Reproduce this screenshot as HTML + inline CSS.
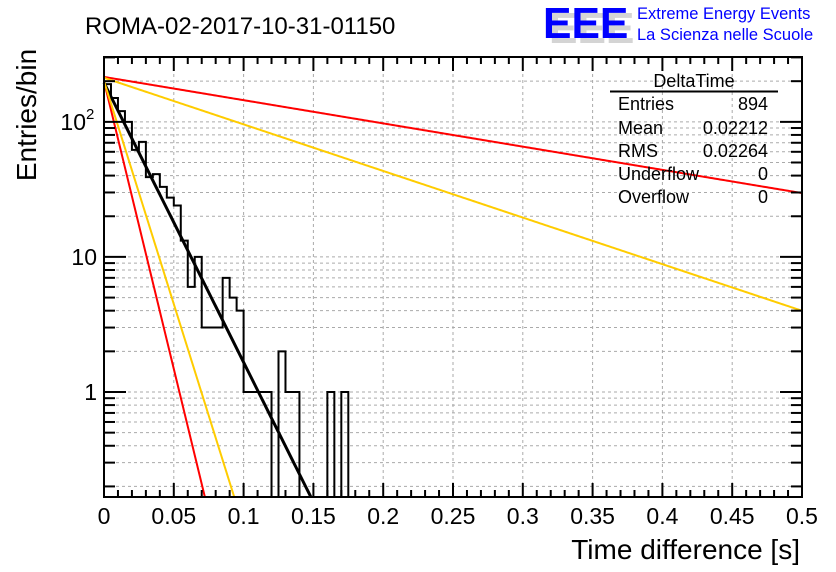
<!DOCTYPE html>
<html><head><meta charset="utf-8"><style>
html,body{margin:0;padding:0;background:#fff;}
svg{display:block;font-family:"Liberation Sans",sans-serif;}
</style></head><body>
<svg id="c" width="836" height="572" viewBox="0 0 836 572">
<rect width="836" height="572" fill="#fff"/>
<text x="85" y="34" font-size="24">ROMA-02-2017-10-31-01150</text>
<g>
<text x="0" y="0" font-size="44" font-weight="bold" fill="#d4d4d4" transform="translate(549,43) scale(0.97,1)">EEE</text>
<text x="0" y="0" font-size="44" font-weight="bold" fill="#0000ff" transform="translate(543,38) scale(0.97,1)">EEE</text>
<text x="637" y="19" font-size="16.5" fill="#0000ff">Extreme Energy Events</text>
<text x="637" y="40" font-size="16.5" fill="#0000ff">La Scienza nelle Scuole</text>
</g>
<g id="grid"></g>
<g id="marks"></g>
<g id="axes"></g>
<g font-size="18">
<text x="694" y="87" text-anchor="middle">DeltaTime</text>
<line x1="610" y1="91.5" x2="778" y2="91.5" stroke="#000" stroke-width="2"/>
<text x="618" y="110">Entries</text><text x="768" y="110" text-anchor="end">894</text>
<text x="618" y="134">Mean</text><text x="768" y="134" text-anchor="end">0.02212</text>
<text x="618" y="157">RMS</text><text x="768" y="157" text-anchor="end">0.02264</text>
<text x="618" y="180">Underflow</text><text x="768" y="180" text-anchor="end">0</text>
<text x="618" y="203">Overflow</text><text x="768" y="203" text-anchor="end">0</text>
</g>
<text x="0" y="0" font-size="28" text-anchor="middle" transform="translate(36,115) rotate(-90)">Entries/bin</text>
<text x="800" y="559" font-size="28" text-anchor="end">Time difference [s]</text>
</svg>
<script>
const binWidth = 0.005;
const binCounts = [190,150,120,100,62,71,39,41,33,27.5,24,13.2,6,10,3,3,3,7,5,4,1,1,1,1,0,2,1,1,0,0,0,0,1,0,1,0];
const xTicks = [0,0.05,0.1,0.15,0.2,0.25,0.3,0.35,0.4,0.45,0.5];
const xTickLabels = ["0","0.05","0.1","0.15","0.2","0.25","0.3","0.35","0.4","0.45","0.5"];
const yTickValues = [1,10,100];
const yTickLabels = ["1","10","10"];
const fitNames = ["fit-black","fit-red-steep","fit-yellow-steep","fit-red-shallow","fit-yellow-shallow"];
const fitAmp = [195,200,200,215,212];
const fitLog10Slope = [20.7,42.6,33,1.72,3.45];
const fitColors = ["#000","#f00","#fc0","#f00","#fc0"];
const fitWidths = [3,2,2,2,2];

const X0=104,X1=802,Y0=497,Y1=57;
const xMin=0,xMax=0.5;
const yLogMin=Math.log10(0.167), yLogMax=Math.log10(302);
const sx=v=>X0+(v-xMin)/(xMax-xMin)*(X1-X0);
const sy=v=>Y0-(Math.log10(v)-yLogMin)/(yLogMax-yLogMin)*(Y0-Y1);
const NS="http://www.w3.org/2000/svg";
function mk(tag,attrs,parent){const e=document.createElementNS(NS,tag);for(const k in attrs)e.setAttribute(k,attrs[k]);parent.appendChild(e);return e;}
const grid=document.getElementById('grid'),marks=document.getElementById('marks'),axes=document.getElementById('axes');
for(const t of xTicks){if(t===0||t===0.5)continue;const l=mk('line',{x1:sx(t),y1:Y0,x2:sx(t),y2:Y1,stroke:'#aaa','stroke-dasharray':'3,3','stroke-width':1},grid);

}
for(let d=-1;d<=2;d++){for(let m=1;m<=9;m++){const v=m*Math.pow(10,d);if(v<0.167||v>302)continue;const y=sy(v);
const l=mk('line',{x1:X0,y1:y,x2:X1,y2:y,stroke:'#aaa','stroke-dasharray':'3,3','stroke-width':1},grid);


const big=m===1;
const tl=mk('line',{x1:X0,y1:y,x2:X0+(big?22:11),y2:y,stroke:'#000','stroke-width':2},axes);


const tr=mk('line',{x1:X1,y1:y,x2:X1-(big?22:11),y2:y,stroke:'#000','stroke-width':2},axes);

}}
let pts=[];
const yc=v=>v<=0?Y0:Math.min(Y0,sy(v));
pts.push(sx(0)+','+Y0);
binCounts.forEach((c,i)=>{const y=yc(c);pts.push(sx(i*binWidth)+','+y);pts.push(sx((i+1)*binWidth)+','+y);});
pts.push(sx(binCounts.length*binWidth)+','+Y0);
const h=mk('polyline',{points:pts.join(' '),fill:'none',stroke:'#000','stroke-width':2},marks);


fitAmp.forEach((A,i)=>{const p=[];for(let k=0;k<=400;k++){const t=k/400*xMax;const v=A*Math.pow(10,-fitLog10Slope[i]*t);if(v<0.167){const tEnd=Math.log10(A/0.167)/fitLog10Slope[i];p.push(sx(tEnd)+','+Y0);break;}p.push(sx(t)+','+sy(v));}
const l=mk('polyline',{points:p.join(' '),fill:'none',stroke:fitColors[i],'stroke-width':fitWidths[i]},marks);

});
const f=mk('rect',{x:X0,y:Y1,width:X1-X0,height:Y0-Y1,fill:'none',stroke:'#000','stroke-width':2},axes);


for(let k=0;k<=50;k++){const t=k*0.01;const big=k%5===0;const x=sx(t);
const b=mk('line',{x1:x,y1:Y0,x2:x,y2:Y0-(big?14:7),stroke:'#000','stroke-width':2},axes);


const tp=mk('line',{x1:x,y1:Y1,x2:x,y2:Y1+(big?14:7),stroke:'#000','stroke-width':2},axes);

}
xTicks.forEach((t,i)=>{const tx=mk('text',{x:sx(t),y:524,'font-size':23,'text-anchor':'middle'},axes);tx.textContent=xTickLabels[i];

});
yTickValues.forEach((v,i)=>{const isExp=v===100;const tx=mk('text',{x:isExp?86:97,y:sy(v)+8,'font-size':23,'text-anchor':'end'},axes);tx.textContent=yTickLabels[i];


if(isExp){const s=mk('text',{x:86,y:sy(v)-3,'font-size':15,'text-anchor':'start'},axes);s.textContent='2';

}});
</script>
</body></html>
